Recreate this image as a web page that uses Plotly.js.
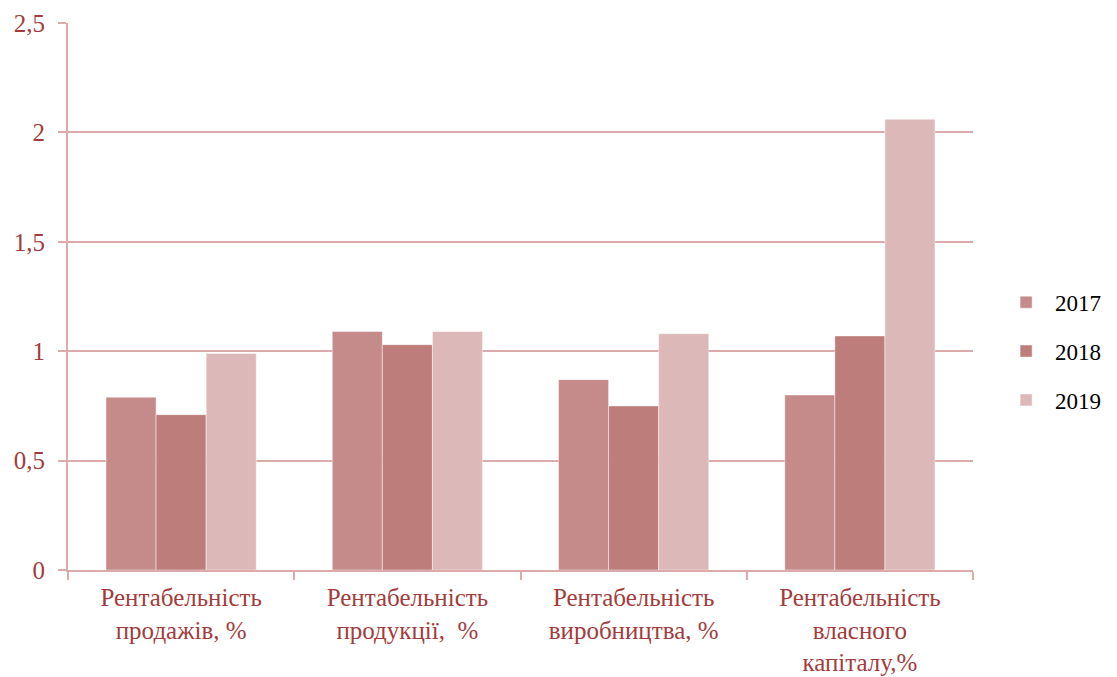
<!DOCTYPE html>
<html>
<head>
<meta charset="utf-8">
<script src="https://cdn.plot.ly/plotly-3.0.1.min.js"></script>
<style>
  html, body { margin: 0; padding: 0; background: #ffffff; }
  #chart { width: 1117px; height: 677px; }
</style>
</head>
<body>
<div id="chart"></div>
<script>
// Profitability indicators by year
const categories = [
  'Рентабельність<br>продажів, %',
  'Рентабельність<br>продукції,  %',
  'Рентабельність<br>виробництва, %',
  'Рентабельність<br>власного<br>капіталу,%'
];
const years = ['2017', '2018', '2019'];
const values2017 = [0.79, 1.09, 0.87, 0.80];
const values2018 = [0.71, 1.03, 0.75, 1.07];
const values2019 = [0.99, 1.09, 1.08, 2.06];
const yTicks = [0, 0.5, 1, 1.5, 2, 2.5];

const colors = ['#c48b8a', '#bd7d7b', '#dcb8b8'];
const series = [values2017, values2018, values2019];
const serif = '"Liberation Serif", "Times New Roman", "DejaVu Serif", serif';

const traces = series.map((vals, i) => ({
  type: 'bar',
  name: years[i],
  legendgroup: years[i],
  x: categories,
  y: vals,
  marker: { color: colors[i], line: { color: 'rgba(255,255,255,0.45)', width: 1 } },
  hoverinfo: 'x+y+name'
}));

const gridColor = '#dcaaaa';
const labelColor = '#a23c3c';

const layout = {
  width: 1117,
  height: 677,
  margin: { l: 68, r: 143, t: 23, b: 107 },
  paper_bgcolor: '#ffffff',
  plot_bgcolor: '#ffffff',
  separators: ', ',
  barmode: 'group',
  bargap: 0.336,
  bargroupgap: 0,
  font: { family: serif, color: labelColor },
  xaxis: {
    type: 'category',
    showgrid: false,
    showline: true,
    linecolor: gridColor,
    linewidth: 2,
    ticks: 'outside',
    tickson: 'boundaries',
    ticklen: 8,
    tickwidth: 2,
    tickcolor: gridColor,
    ticklabelstandoff: 4,
    tickfont: { size: 25, color: labelColor, family: serif },
    zeroline: false
  },
  yaxis: {
    range: [0, 2.5],
    tickvals: yTicks,
    showgrid: true,
    gridcolor: gridColor,
    gridwidth: 2,
    showline: true,
    linecolor: gridColor,
    linewidth: 2,
    ticks: 'outside',
    ticklen: 8,
    tickwidth: 2,
    tickcolor: gridColor,
    ticklabelstandoff: 8,
    tickfont: { size: 25, color: labelColor, family: serif },
    zeroline: false
  },
  legend: {
    x: 1.0255,
    xanchor: 'left',
    y: 0.4,
    yanchor: 'middle',
    font: { size: 23, color: '#000000', family: serif },
    traceorder: 'grouped',
    tracegroupgap: 16,
    itemwidth: 48
  },
  showlegend: true
};

Plotly.newPlot('chart', traces, layout, { displayModeBar: false, staticPlot: true });
</script>
</body>
</html>
